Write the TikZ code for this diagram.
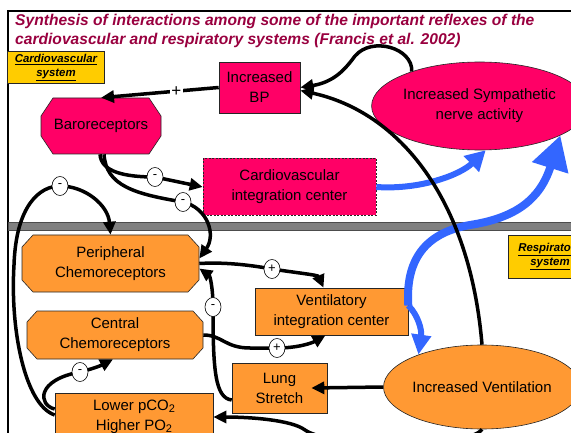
\documentclass[tikz,border=0pt]{standalone}
\usepackage{fontspec}
\setmainfont{Liberation Sans}
\usetikzlibrary{arrows.meta}
\usetikzlibrary{shapes.geometric}

\definecolor{cvred}{HTML}{FF0066}
\definecolor{resporange}{HTML}{FF9933}
\definecolor{labelyellow}{HTML}{FFCC00}
\definecolor{flowblue}{HTML}{3366FF}
\definecolor{titlered}{HTML}{99003F}

\newcommand{\lowtwo}{\raisebox{-1.5pt}{\fontsize{11}{11}\selectfont 2}}
% 八边形: 颜色, 中心x, 中心y, 半宽, 半高, 横向切角, 纵向切角
\newcommand{\octofill}[7]{%
  \filldraw[fill=#1, draw=black!85, line width=0.6pt]
    (#2-#4+#6,#3-#5) -- (#2+#4-#6,#3-#5) -- (#2+#4,#3-#5+#7) -- (#2+#4,#3+#5-#7)
    -- (#2+#4-#6,#3+#5) -- (#2-#4+#6,#3+#5) -- (#2-#4,#3+#5-#7) -- (#2-#4,#3-#5+#7) -- cycle;}

\tikzset{
  box/.style={draw=black!85, line width=0.6pt, align=center, inner sep=0pt, font=\fontsize{15}{20}\selectfont},
  cvbox/.style={box, fill=cvred},
  rsbox/.style={box, fill=resporange},
  octotext/.style={box, draw=none},
  sysbox/.style={draw=black!85, line width=0.6pt, fill=labelyellow, align=center, inner sep=0pt, font=\fontsize{11.4}{14}\selectfont\bfseries\itshape},
  sign/.style={ellipse, draw, fill=white, line width=0.6pt, inner sep=0pt, minimum width=16pt, minimum height=19pt, font=\fontsize{13}{13}\selectfont},
  link/.style={line width=3.5pt, -{Triangle[length=13pt,width=12pt]}},
  bluelink/.style={flowblue, line width=6pt, -{Triangle[length=20pt,width=21pt]}},
  titletext/.style={anchor=base west, inner sep=0pt, text=titlered, font=\fontsize{15.6}{18}\selectfont\bfseries\itshape},
}

\begin{document}
\begin{tikzpicture}[x=1pt, y=-1pt]
    \useasboundingbox (0,0) rectangle (571,433);
    \clip (0,0) rectangle (571,433);

    % 标题
    \node[titletext] (title1) at (15,26) {Synthesis of interactions among some of the important reflexes of the};
    \node[titletext] (title2) at (15,44.5) {cardiovascular and respiratory systems (Francis et al. 2002)};

    % 外框和分隔带
    \draw[line width=1.2pt] (8,440) -- (8,11) -- (580,11);
    \filldraw[fill=gray, draw=black!70, line width=0.6pt] (8,222) rectangle (580,230);

    \node[sysbox, minimum width=97pt, minimum height=32pt] (cvsys) at (56,67.5) {\underline{Cardiovascular}\\\underline{system}};
    \node[sysbox, minimum width=84pt, minimum height=43pt] (rssys) at (550,256.5) {\underline{Respiratory}\\\underline{system}};

    % 心血管部分
    \node[cvbox, minimum width=81pt, minimum height=51pt] (bp) at (259.5,87.5) {Increased\\BP};
    \node[cvbox, ellipse, minimum width=181pt, minimum height=88pt] (sym) at (479.5,106) {Increased Sympathetic\\nerve activity};
    \octofill{cvred}{101}{126}{60}{28}{12}{18}
    \node[octotext, minimum width=120pt, minimum height=56pt] (baro) at (101,126) {Baroreceptors};
    \node[cvbox, dash pattern=on 2pt off 1.5pt, minimum width=173pt, minimum height=57pt] (cvic) at (289.5,187) {Cardiovascular\\integration center};

    % 呼吸部分
    \octofill{resporange}{110.5}{263.5}{88.5}{28.5}{11}{12}
    \node[octotext, minimum width=177pt, minimum height=57pt] (pc) at (110.5,263.5) {Peripheral\\Chemoreceptors};
    \octofill{resporange}{115}{335}{88}{24}{10}{11}
    \node[octotext, minimum width=176pt, minimum height=48pt] (cc) at (115,335) {Central\\Chemoreceptors};
    \node[rsbox, minimum width=153pt, minimum height=47pt] (vic) at (331.5,311.5) {Ventilatory\\integration center};
    \node[rsbox, minimum width=95pt, minimum height=50pt] (lung) at (279.5,388) {Lung\\Stretch};
    \node[rsbox, minimum width=158pt, minimum height=48pt] (low) at (134,417) {Lower pCO\lowtwo\\Higher PO\lowtwo};
    \node[rsbox, ellipse, minimum width=178pt, minimum height=84pt] (vent) at (482,387) {Increased Ventilation};

    % 蓝色箭头
    \draw[bluelink] (cvic.east) .. controls (420,190) and (460,175) .. (sym.-82);
    \draw[bluelink, line width=8pt, -{Triangle[length=34pt,width=36pt]}] ([yshift=6pt]vic.east) .. controls (405,255) and (430,232) .. (470,225) .. controls (515,218) and (540,200) .. (sym.-20);
    \draw[bluelink, -{Triangle[length=20pt,width=19pt]}] ([yshift=6pt]vic.east) .. controls (418,315) and (422,330) .. (vent.153);

    % 黑色箭头
    \draw[link] (bp.west) -- (baro.north) node[pos=0.36, fill=white, inner sep=1.5pt, font=\fontsize{17}{17}\selectfont] {+};
    \draw[link] (sym.153) .. controls (413,48) and (372,36) .. (355,56) .. controls (346,68) and (335,82) .. (bp.east);
    \draw[link] (vent.north) .. controls (470,200) and (400,112) .. ([yshift=-3pt]bp.east);
    \draw[link] ([xshift=-1pt]baro.south) .. controls (101,172) and (125,177) .. (155,177) node[sign] {-} -- (cvic.west);
    \draw[link] ([xshift=3pt]baro.south) .. controls (106,186) and (135,194) .. (183,202) node[sign] {-} .. controls (208,208) and (216,235) .. ([yshift=5pt]pc.east);
    \draw[link] ([yshift=2pt]low.west) .. controls (25,405) and (10,330) .. (14,265) .. controls (16,205) and (40,186) .. (60,186) node[sign] {-} .. controls (85,186) and (108,205) .. (pc.north);
    \draw[link] ([yshift=8pt]low.west) .. controls (38,405) and (36,380) .. (80,372) node[sign] {-} .. controls (92,369) and (100,366) .. ([xshift=-2pt]cc.south);
    \draw[link] (pc.east) .. controls (225,262) and (250,265) .. (272,269) node[sign] {+} .. controls (298,273) and (318,275) .. ([xshift=-8pt]vic.north);
    \draw[link] ([yshift=-12pt]lung.west) .. controls (215,398) and (213,370) .. (213,307) node[sign] {-} .. controls (213,288) and (210,276) .. ([yshift=-5pt]pc.east);
    \draw[link] (cc.east) .. controls (222,335) and (225,348) .. (250,348) -- (277,348) node[sign] {+} .. controls (298,348) and (312,343) .. ([xshift=-6pt]vic.south);
    \draw[link] (vent.west) -- ([xshift=-16pt]lung.east);
    \draw[link] (vent.south) .. controls (470,448) and (330,448) .. (305,430) .. controls (292,420) and (250,417) .. (low.east);

\end{tikzpicture}
\end{document}
